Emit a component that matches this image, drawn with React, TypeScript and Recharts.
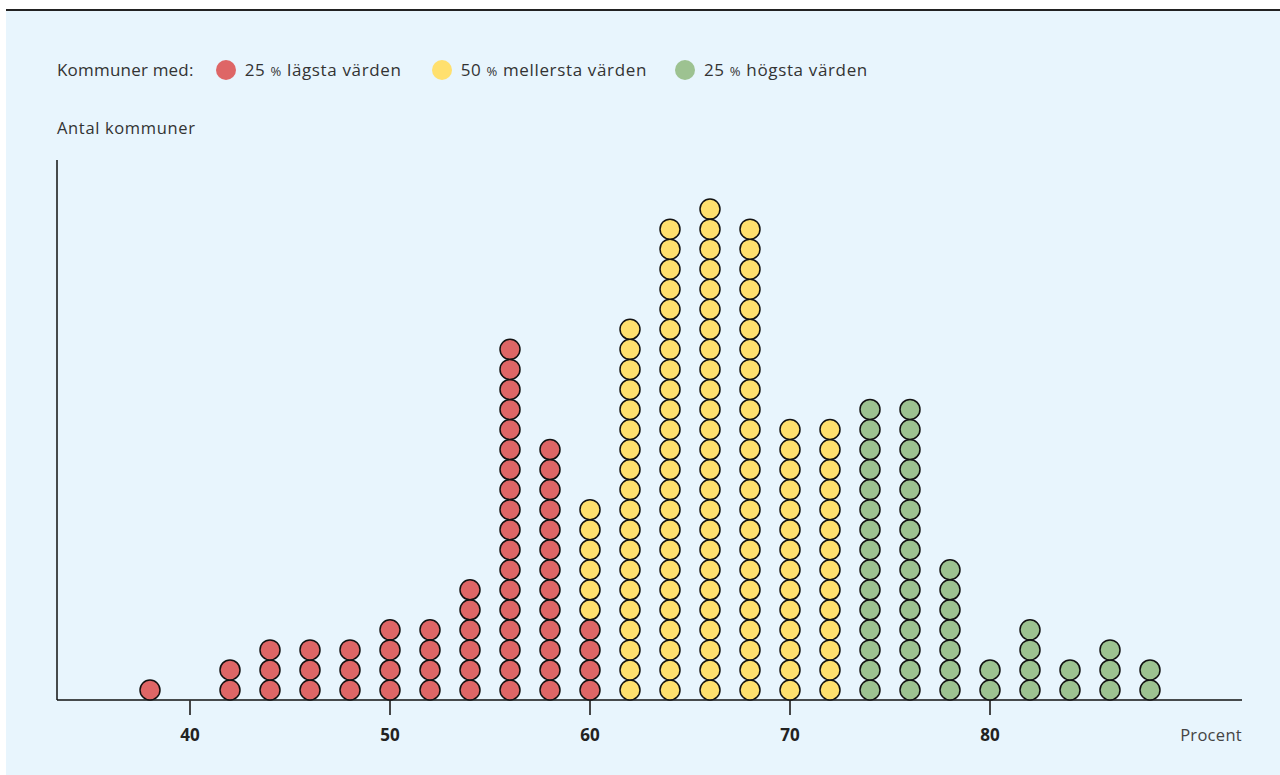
import { ScatterChart, Scatter, XAxis, YAxis } from 'recharts';

// percent buckets and number of municipalities per bucket, split by group
const buckets = [38, 42, 44, 46, 48, 50, 52, 54, 56, 58, 60, 62, 64, 66, 68, 70, 72, 74, 76, 78, 80, 82, 84, 86, 88];
const lowest = [1, 2, 3, 3, 3, 4, 4, 6, 18, 13, 4, 0, 0, 0, 0, 0, 0, 0, 0, 0, 0, 0, 0, 0, 0];
const middle = [0, 0, 0, 0, 0, 0, 0, 0, 0, 0, 6, 19, 24, 25, 24, 14, 14, 0, 0, 0, 0, 0, 0, 0, 0];
const highest = [0, 0, 0, 0, 0, 0, 0, 0, 0, 0, 0, 0, 0, 0, 0, 0, 0, 15, 15, 7, 2, 4, 2, 3, 2];
const xTicks = [40, 50, 60, 70, 80];

const RED = '#de6666';
const YELLOW = '#ffe06e';
const GREEN = '#9dc291';
const FONT = '"Open Sans", "Noto Sans", sans-serif';

// stack dots in each column: red at bottom, then yellow, then green
function stack(counts: number[], below: number[][]) {
  const pts: { x: number; y: number }[] = [];
  buckets.forEach((b, i) => {
    const base = below.reduce((s, arr) => s + arr[i], 0);
    for (let k = 0; k < counts[i]; k++) pts.push({ x: b, y: base + k + 0.5 });
  });
  return pts;
}

const redPts = stack(lowest, []);
const yellowPts = stack(middle, [lowest]);
const greenPts = stack(highest, [lowest, middle]);
const tickPts = xTicks.map((t) => ({ x: t, y: 0 }));

const dot = (fill: string) => (p: any) => (
  <circle cx={p.cx} cy={p.cy} r={10} fill={fill} stroke="#111" strokeWidth={1.5} />
);

// small downward tick mark below the axis
const tickMark = (p: any) => (
  <rect x={p.cx - 0.9} y={p.cy} width={1.8} height={15} fill="#333" />
);

// bold tick label
const renderTick = (p: any) => (
  <text x={p.x} y={Number(p.y) + 41} textAnchor="middle" style={{ fontSize: 17, fontWeight: 700, fill: '#222', fontFamily: FONT }}>
    {p.payload.value}
  </text>
);

function LegendItem({ color, num, text, gap }: { color: string; num: string; text: string; gap: number }) {
  return (
    <span style={{ display: 'inline-flex', alignItems: 'center', marginRight: gap, letterSpacing: 0.65 }}>
      <span style={{ width: 20, height: 20, borderRadius: 10, background: color, display: 'inline-block', marginRight: 9 }} />
      <span>
        {num} <span style={{ fontSize: 13 }}>%</span> {text}
      </span>
    </span>
  );
}

export default function App() {
  return (
    <div style={{ position: 'absolute', left: 0, top: 0, width: 1280, height: 775, background: '#fff', fontFamily: FONT }}>
      <div style={{ position: 'absolute', left: 6, top: 9, width: 1274, height: 766, background: '#e8f5fd', borderTop: '2px solid #222' }}>
        <div style={{ position: 'absolute', left: 51, top: 47, fontSize: 17, color: '#333', display: 'flex', alignItems: 'center', whiteSpace: 'nowrap' }}>
          <span style={{ marginRight: 22, letterSpacing: 0.2 }}>Kommuner med:</span>
          <LegendItem color={RED} num="25" text="lägsta värden" gap={30} />
          <LegendItem color={YELLOW} num="50" text="mellersta värden" gap={28} />
          <LegendItem color={GREEN} num="25" text="högsta värden" gap={0} />
        </div>
        <div style={{ position: 'absolute', left: 51, top: 105, fontSize: 16.5, letterSpacing: 0.65, color: '#333' }}>Antal kommuner</div>
        <div style={{ position: 'absolute', right: 38, top: 712, fontSize: 16.5, letterSpacing: 0.3, color: '#444' }}>Procent</div>
        <div style={{ position: 'absolute', left: 0, top: 0 }}>
          <ScatterChart width={1274} height={764} margin={{ top: 149, right: 38, bottom: 35, left: 50 }}>
            <XAxis
              type="number"
              dataKey="x"
              domain={[33.35, 92.6]}
              ticks={xTicks}
              height={40}
              stroke="#111"
              strokeWidth={1.5}
              tickSize={0}
              tickMargin={0}
              tickLine={false}
              tick={renderTick}
            />
            <YAxis type="number" dataKey="y" domain={[0, 26.95]} width={1} tick={false} tickLine={false} stroke="#111" strokeWidth={1.5} />
            <Scatter data={tickPts} shape={tickMark} isAnimationActive={false} />
            <Scatter data={redPts} shape={dot(RED)} isAnimationActive={false} />
            <Scatter data={yellowPts} shape={dot(YELLOW)} isAnimationActive={false} />
            <Scatter data={greenPts} shape={dot(GREEN)} isAnimationActive={false} />
          </ScatterChart>
        </div>
      </div>
    </div>
  );
}
